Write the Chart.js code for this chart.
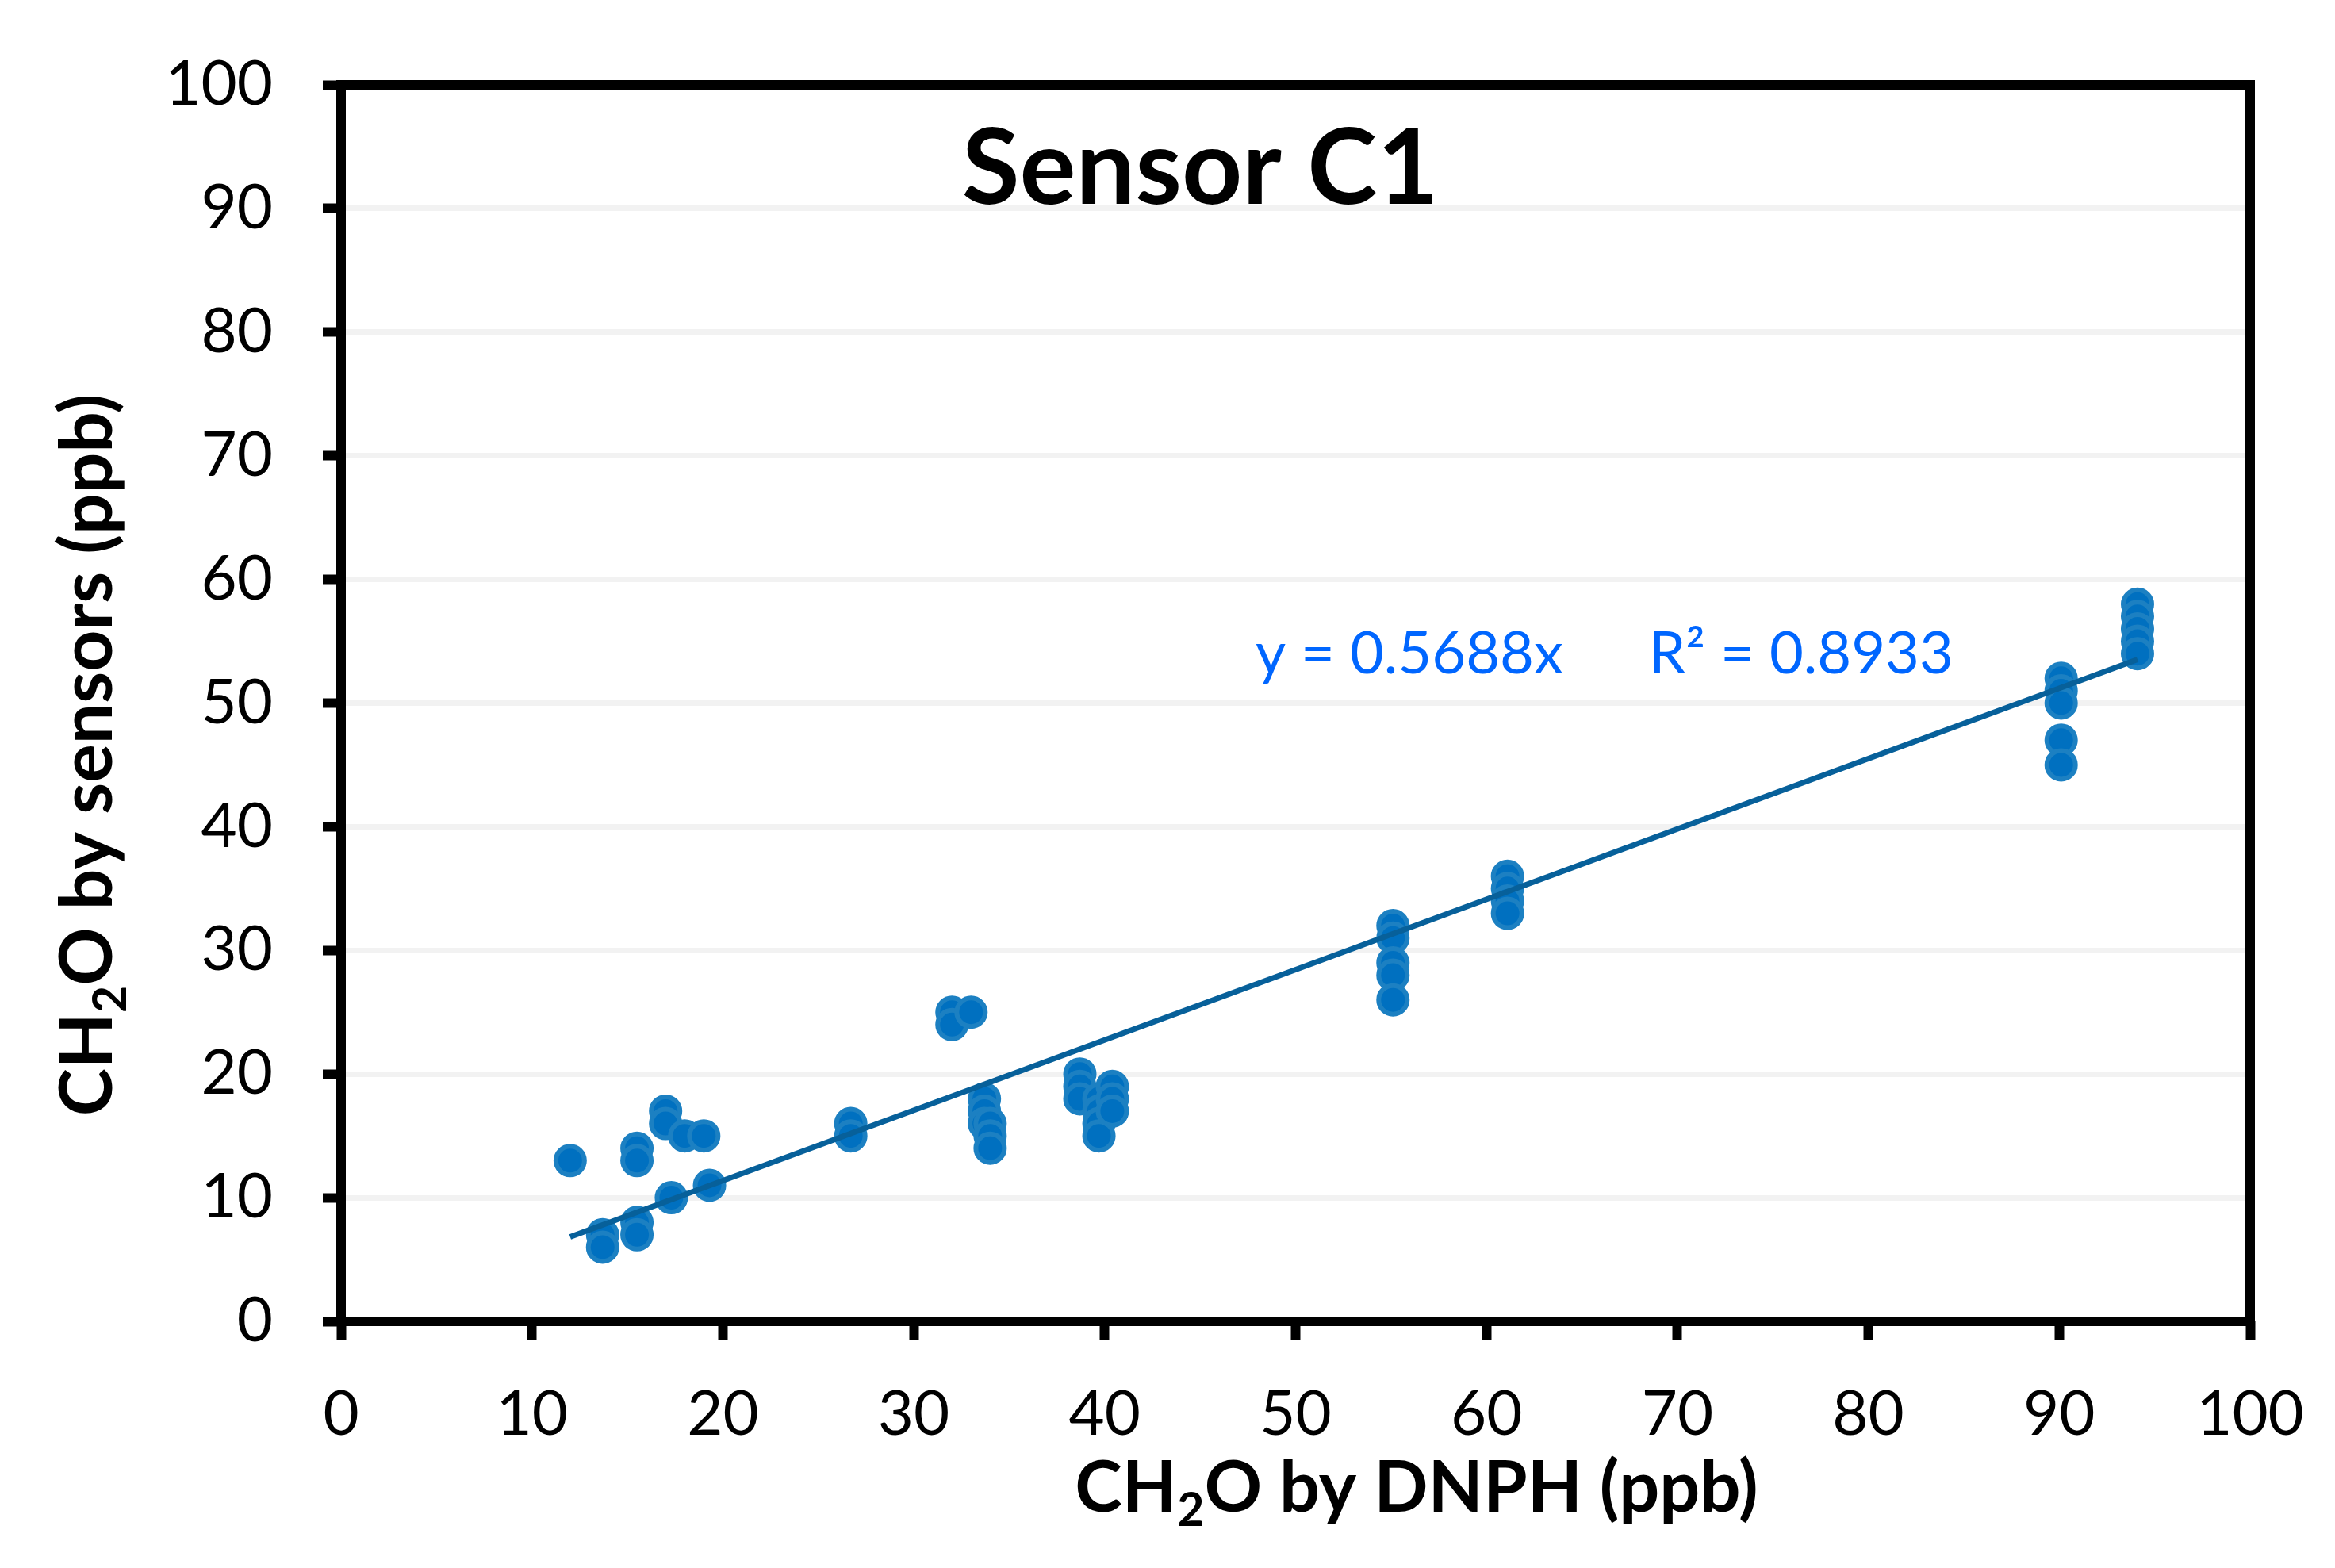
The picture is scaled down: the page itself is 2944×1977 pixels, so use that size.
<!DOCTYPE html>
<html>
<head>
<meta charset="utf-8">
<title>Sensor C1</title>
<script src="https://cdn.jsdelivr.net/npm/chart.js@4.4.1/dist/chart.umd.min.js"></script>
<style>
  html, body { margin: 0; padding: 0; background: #fff; }
  #wrap { width: 2944px; height: 1977px; }
</style>
</head>
<body>
<div id="wrap"><canvas id="scatterChart" width="2944" height="1977"></canvas></div>
<script>
// CH2O by DNPH (x) vs CH2O by sensor C1 (y), ppb
var dnph = [
  12,
  13.7, 13.7,
  15.5, 15.5, 15.5, 15.5,
  17, 17, 17.3, 18, 19, 19.3,
  26.7, 26.7,
  32, 32, 33,
  33.7, 33.7, 33.7, 34, 34, 34,
  38.7, 38.7, 38.7,
  39.7, 39.7, 39.7, 39.7,
  40.4, 40.4, 40.4,
  55.1, 55.1, 55.1, 55.1, 55.1,
  61.1, 61.1, 61.1, 61.1,
  90.1, 90.1, 90.1, 90.1, 90.1,
  94.1, 94.1, 94.1, 94.1, 94.1
];
var sensors = [
  13,
  7, 6,
  14, 13, 8, 7,
  17, 16, 10, 15, 15, 11,
  16, 15,
  25, 24, 25,
  18, 17, 16, 16, 15, 14,
  20, 19, 18,
  18, 17, 16, 15,
  19, 18, 17,
  32, 31, 29, 28, 26,
  36, 35, 34, 33,
  52, 51, 50, 47, 45,
  58, 57, 56, 55, 54
];
var tickValues = [0, 10, 20, 30, 40, 50, 60, 70, 80, 90, 100];
var slope = 0.5688;
var rSquared = 0.8933;
var chartTitle = 'Sensor C1';
var xTitle = [['CH', false], ['2', true], ['O by DNPH (ppb)', false]];
var yTitle = [['CH', false], ['2', true], ['O by sensors (ppb)', false]];

var points = [];
for (var i in dnph) {
  points.push({ x: dnph[i], y: sensors[i] });
}
var xMin = Math.min.apply(null, dnph);
var xMax = Math.max.apply(null, dnph);
var trend = [{ x: xMin, y: slope * xMin }, { x: xMax, y: slope * xMax }];

function drawParts(ctx, parts, size, x, y) {
  var total = 0;
  for (var i in parts) {
    ctx.font = 'bold ' + (parts[i][1] ? Math.round(size * 0.65) : size) + 'px Lato';
    total += ctx.measureText(parts[i][0]).width;
  }
  var cx = x - total / 2;
  ctx.textAlign = 'left';
  ctx.textBaseline = 'alphabetic';
  for (var j in parts) {
    var sub = parts[j][1];
    ctx.font = 'bold ' + (sub ? Math.round(size * 0.65) : size) + 'px Lato';
    ctx.fillText(parts[j][0], cx, y + (sub ? size * 0.2 : 0));
    cx += ctx.measureText(parts[j][0]).width;
  }
}

var annotations = {
  id: 'annotations',
  afterDraw: function(chart) {
    var ctx = chart.ctx;
    var area = chart.chartArea;
    ctx.save();

    // plot frame
    ctx.strokeStyle = '#000';
    ctx.lineWidth = 12;
    ctx.strokeRect(area.left, area.top, area.right - area.left, area.bottom - area.top);

    // title
    ctx.fillStyle = '#000';
    ctx.font = 'bold 133px Lato';
    ctx.textAlign = 'center';
    ctx.textBaseline = 'alphabetic';
    ctx.fillText(chartTitle, 1513, 257);

    // regression text
    ctx.fillStyle = '#0066FF';
    ctx.font = '74px Lato';
    ctx.textAlign = 'left';
    ctx.fillText('y = ' + slope + 'x', 1583, 849);
    ctx.fillText('R\u00B2 = ' + rSquared, 2079, 849);

    // axis titles
    ctx.fillStyle = '#000';
    drawParts(ctx, xTitle, 90, 1786, 1906);
    ctx.translate(141, 952);
    ctx.rotate(-Math.PI / 2);
    drawParts(ctx, yTitle, 91, 0, 0);
    ctx.restore();
  }
};

function makeChart() {
  var ctx = document.getElementById('scatterChart').getContext('2d');
  var tickFont = { family: 'Lato', size: 78 };

  var chart = new Chart(ctx, {
    type: 'scatter',
    data: {
      datasets: [{
        type: 'line',
        label: 'Trend',
        data: trend,
        borderColor: '#07609A',
        borderWidth: 7,
        pointRadius: 0,
        fill: false,
        order: 0
      }, {
        label: 'Sensor C1',
        data: points,
        backgroundColor: '#0070C0',
        borderColor: '#1C80C2',
        borderWidth: 6,
        pointRadius: 18,
        pointHoverRadius: 18,
        order: 1
      }]
    },
    options: {
      responsive: false,
      animation: false,
      events: [],
      layout: { autoPadding: false, padding: { top: 107, right: 107, left: 0, bottom: 0 } },
      plugins: {
        legend: { display: false },
        tooltip: { enabled: false }
      },
      scales: {
        x: {
          type: 'linear',
          min: 0,
          max: 100,
          afterBuildTicks: function(axis) {
            axis.ticks = tickValues.map(function(v) { return { value: v }; });
          },
          afterFit: function(axis) {
            axis.height = 311;
            axis.paddingLeft = 0;
            axis.paddingRight = 0;
          },
          ticks: { font: tickFont, color: '#000', padding: 48, autoSkip: false, maxRotation: 0 },
          grid: { drawOnChartArea: false, tickLength: 23, tickWidth: 12, tickColor: '#000' },
          border: { display: false }
        },
        y: {
          type: 'linear',
          min: 0,
          max: 100,
          afterBuildTicks: function(axis) {
            axis.ticks = tickValues.map(function(v) { return { value: v }; });
          },
          afterFit: function(axis) {
            axis.width = 430;
            axis.paddingTop = 0;
            axis.paddingBottom = 0;
          },
          ticks: { font: tickFont, color: '#000', padding: 63, autoSkip: false },
          grid: { color: '#F2F2F2', lineWidth: 7, tickLength: 23, tickWidth: 12, tickColor: '#000' },
          border: { display: false }
        }
      }
    },
    plugins: [annotations]
  });
}

if (document.fonts && document.fonts.load) {
  Promise.all([
    document.fonts.load('78px Lato'),
    document.fonts.load('bold 85px Lato')
  ]).then(makeChart, makeChart);
} else {
  makeChart();
}
</script>
</body>
</html>
